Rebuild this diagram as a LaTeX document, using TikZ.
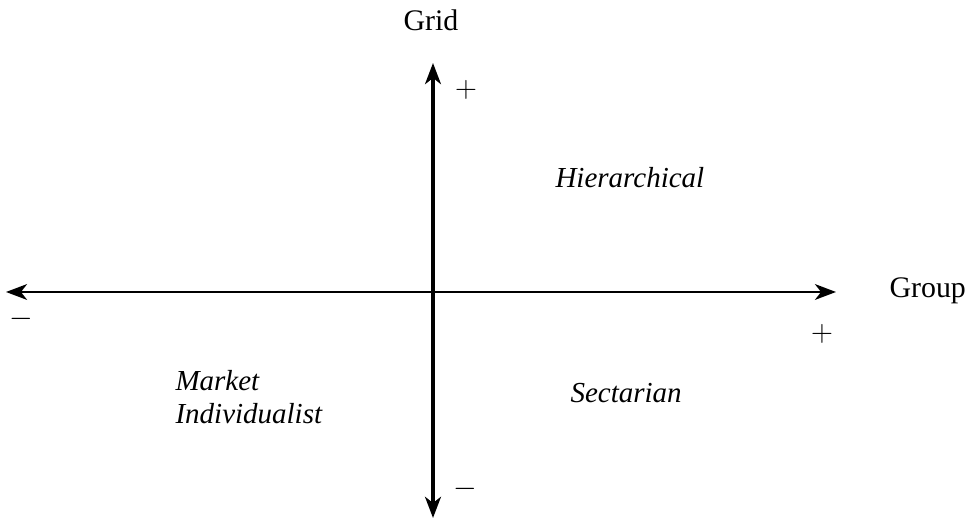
\documentclass[tikz,border=0pt]{standalone}
\usepackage{fontspec}
\setmainfont{Liberation Serif}
\usetikzlibrary{arrows.meta}

\tikzset{
  axis/.style={-{Stealth[length=12pt, width=9pt, inset=3.5pt]}},
  axlabel/.style={font=\fontsize{17}{19}\selectfont},
  region/.style={font=\fontsize{16.5}{18.7}\selectfont\itshape, align=left},
  sign/.style={font=\fontsize{17}{17}\selectfont}
}

\begin{document}
\begin{tikzpicture}[x=0.02cm, y=-0.02cm, thick]
  \useasboundingbox (0,0) rectangle (968,519);

  % -- Axis ends --
  \coordinate (origin) at (433, 292);
  \coordinate (gridtop) at (433, 63);
  \coordinate (gridbot) at (433, 518);
  \coordinate (groupleft) at (6, 292);
  \coordinate (groupright) at (836, 292);

  % -- Axes --
  \draw[axis, line width=1.2pt] (origin) -- (groupright);
  \draw[axis, line width=1.2pt] (origin) -- (groupleft);
  \draw[axis, line width=2.1pt] (origin) -- (gridtop);
  \draw[axis, line width=2.1pt] (origin) -- (gridbot);

  % -- Axis names --
  \node[axlabel] (gridname) at (431, 20) {Grid};
  \node[axlabel, anchor=west] (groupname) at (883, 291) {Group};

  % -- Signs --
  \node[sign] (gridplus) at (466, 90) {$+$};
  \node[sign] (gridminus) at (465, 489) {$-$};
  \node[sign] (groupminus) at (21, 319) {$-$};
  \node[sign] (groupplus) at (822, 334) {$+$};

  % -- Quadrants --
  \node[region, anchor=base west] (hier) at (549, 188) {Hierarchical};
  \node[region, anchor=base west] (sect) at (564, 403) {Sectarian};
  \node[region, anchor=west] (market) at (169, 397) {Market\\Individualist};

\end{tikzpicture}
\end{document}
